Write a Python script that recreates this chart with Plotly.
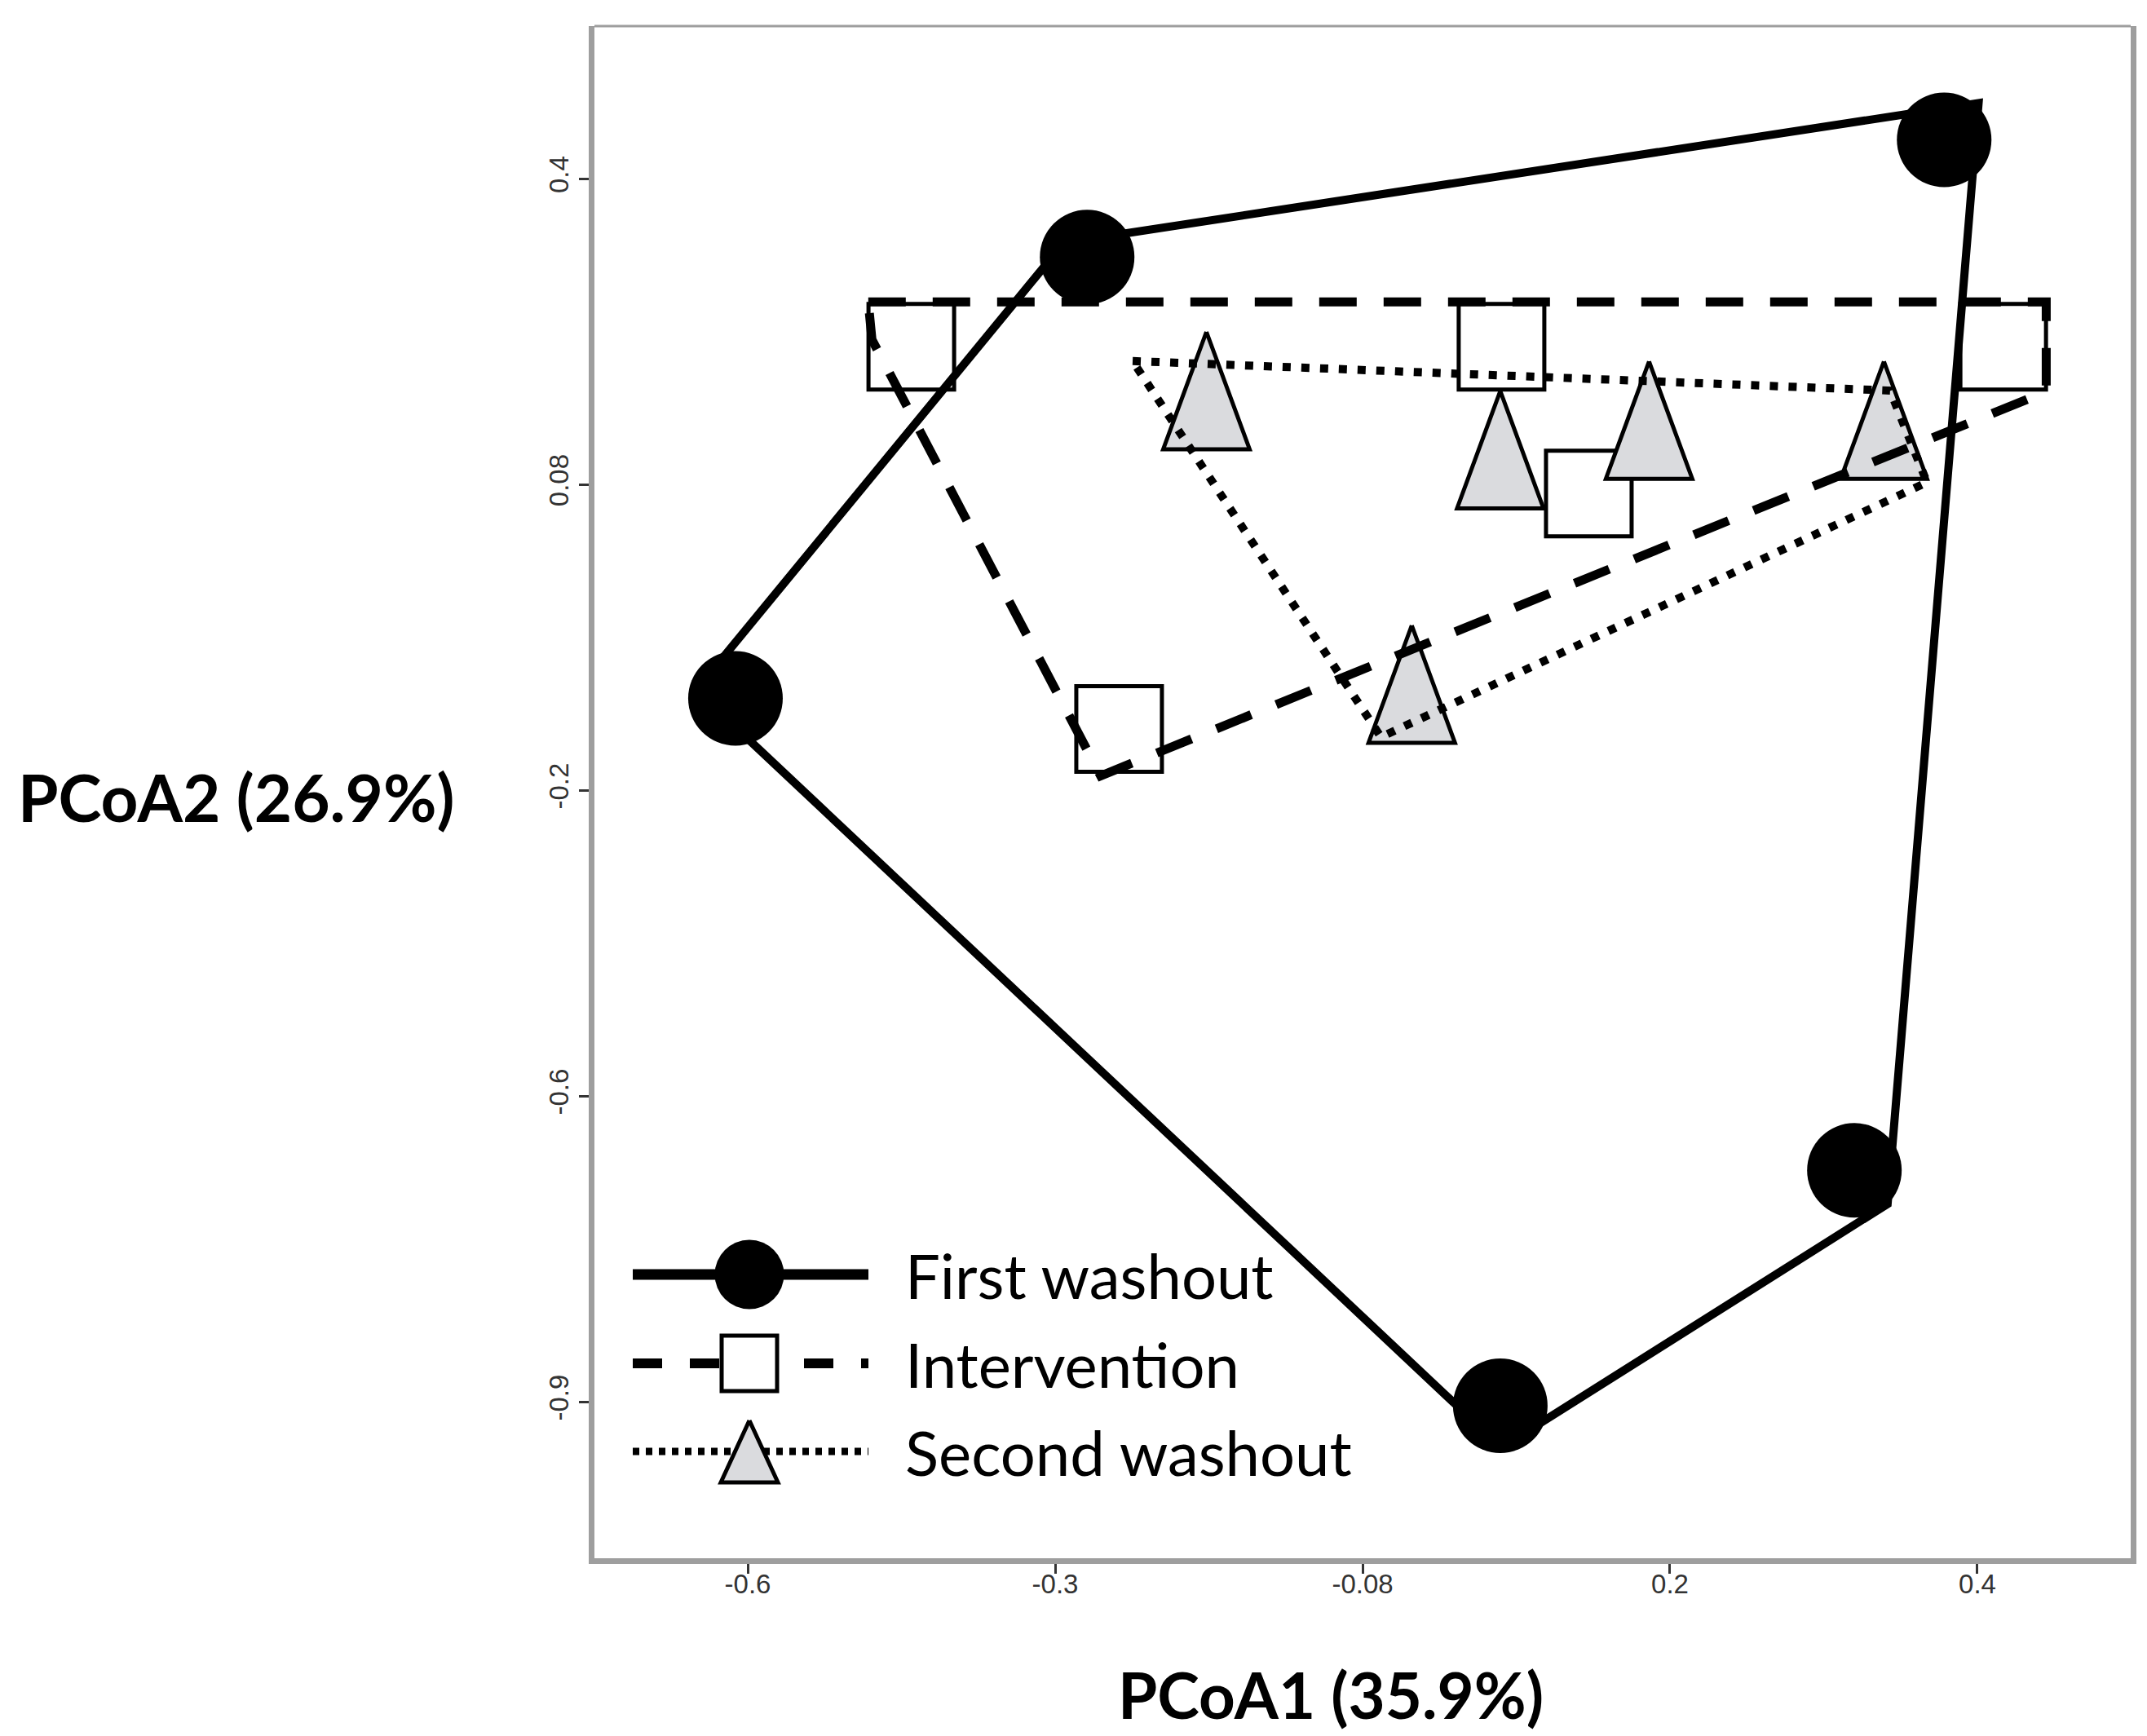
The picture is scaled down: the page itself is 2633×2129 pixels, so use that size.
import plotly.graph_objects as go

# ---------------- data ----------------
first_x = [-0.610, -0.324, 0.373, 0.300, 0.012]
first_y = [-0.110, 0.323, 0.438, -0.573, -0.804]
interv_x = [-0.467, 0.013, 0.421, 0.084, -0.298]
interv_y = [0.235, 0.235, 0.235, 0.091, -0.140]
second_x = [-0.227, 0.012, 0.133, 0.324, -0.060]
second_y = [0.192, 0.134, 0.163, 0.163, -0.096]

hull_first_x = [-0.642, -0.343, 0.401, 0.327, 0.013]
hull_first_y = [-0.102, 0.337, 0.474, -0.606, -0.845]
hull_interv_x = [-0.502, 0.456, 0.456, -0.313, -0.499]
hull_interv_y = [0.279, 0.279, 0.191, -0.186, 0.242]
hull_second_x = [-0.287, 0.329, 0.359, -0.085]
hull_second_y = [0.221, 0.192, 0.102, -0.148]

x_tickvals = [-0.6, -0.35, -0.1, 0.15, 0.4]
x_ticktext = ["-0.6", "-0.3", "-0.08", "0.2", "0.4"]
y_tickvals = [0.4, 0.1, -0.2, -0.5, -0.8]
y_ticktext = ["0.4", "0.08", "-0.2", "-0.6", "-0.9"]

group_names = ["First washout", "Intervention", "Second washout"]
x_title = "PCoA1 (35.9%)"
y_title = "PCoA2 (26.9%)"

# ---------------- layout constants ----------------
W, H = 2633, 2129
M_L, M_R, M_T, M_B = 721, 28, 24, 226
PLOT_W = W - M_L - M_R
PLOT_H = H - M_T - M_B
X_RANGE = [-0.7247, 0.5247]
Y_RANGE = [-0.9536, 0.5496]
UX = (X_RANGE[1] - X_RANGE[0]) / PLOT_W
UY = (Y_RANGE[1] - Y_RANGE[0]) / PLOT_H

TRI_FILL = "#dadbde"
AXIS_GREY = "#9e9e9e"
TEXT_FONT = "Lato"


def triangles(xs, ys, w_px, h_px, ux, uy):
    px, py = [], []
    hw, hh = w_px / 2 * ux, h_px / 2 * uy
    for x, y in zip(xs, ys):
        px += [x, x - hw, x + hw, x, None]
        py += [y + hh, y - hh, y - hh, y + hh, None]
    return px, py


def closed(xs, ys):
    return list(xs) + [xs[0]], list(ys) + [ys[0]]


fig = go.Figure()

# markers
fig.add_trace(go.Scatter(x=first_x, y=first_y, mode="markers", name=group_names[0],
                         marker=dict(symbol="circle", size=116, color="black",
                                     line=dict(width=0)),
                         showlegend=False))
fig.add_trace(go.Scatter(x=interv_x, y=interv_y, mode="markers", name=group_names[1],
                         marker=dict(symbol="square", size=105, color="white",
                                     line=dict(width=5, color="black")),
                         showlegend=False))
tx, ty = triangles(second_x, second_y, 106, 144, UX, UY)
fig.add_trace(go.Scatter(x=tx, y=ty, mode="lines", fill="toself", fillcolor=TRI_FILL,
                         line=dict(color="black", width=5), name=group_names[2],
                         showlegend=False))

# hulls (drawn above markers)
hx, hy = closed(hull_first_x, hull_first_y)
fig.add_trace(go.Scatter(x=hx, y=hy, mode="lines", line=dict(color="black", width=10),
                         showlegend=False, hoverinfo="skip"))
hx, hy = closed(hull_interv_x, hull_interv_y)
fig.add_trace(go.Scatter(x=hx, y=hy, mode="lines",
                         line=dict(color="black", width=11, dash="46px,33px"),
                         showlegend=False, hoverinfo="skip"))
hx, hy = closed(hull_second_x, hull_second_y)
fig.add_trace(go.Scatter(x=hx, y=hy, mode="lines",
                         line=dict(color="black", width=10, dash="10px,13px"),
                         showlegend=False, hoverinfo="skip"))

# ---------------- manual legend (pixel-space overlay axes) ----------------
LEG_X0, LEG_X1, LEG_MX, LEG_TX = 768, 1057, 911, 1100
LEG_Y = [1555, 1664, 1772]
leg_dash = ["solid", "36px,34px", "8px,8px"]
leg_width = [13, 12, 9]
for i in range(3):
    fig.add_trace(go.Scatter(x=[LEG_X0, LEG_X1], y=[LEG_Y[i], LEG_Y[i]], mode="lines",
                             xaxis="x2", yaxis="y2",
                             line=dict(color="black", width=leg_width[i], dash=leg_dash[i]),
                             showlegend=False, hoverinfo="skip"))
fig.add_trace(go.Scatter(x=[LEG_MX], y=[LEG_Y[0]], mode="markers", xaxis="x2", yaxis="y2",
                         marker=dict(symbol="circle", size=85, color="black"),
                         showlegend=False, hoverinfo="skip"))
fig.add_trace(go.Scatter(x=[LEG_MX], y=[LEG_Y[1]], mode="markers", xaxis="x2", yaxis="y2",
                         marker=dict(symbol="square", size=68, color="white",
                                     line=dict(width=5, color="black")),
                         showlegend=False, hoverinfo="skip"))
ltx, lty = triangles([LEG_MX], [LEG_Y[2]], 70, 76, 1, -1)
fig.add_trace(go.Scatter(x=ltx, y=lty, mode="lines", fill="toself", fillcolor=TRI_FILL,
                         xaxis="x2", yaxis="y2", line=dict(color="black", width=5),
                         showlegend=False, hoverinfo="skip"))

annotations = []
for i, name in enumerate(group_names):
    annotations.append(dict(x=LEG_TX, y=LEG_Y[i], xref="x2", yref="y2", text=name,
                            showarrow=False, xanchor="left", yanchor="middle",
                            font=dict(family=TEXT_FONT, size=76, color="black")))
annotations.append(dict(x=(1624 - M_L) / PLOT_W, y=(H - M_B - 2070) / PLOT_H,
                        xref="paper", yref="paper", text="<b>" + x_title + "</b>",
                        showarrow=False, xanchor="center", yanchor="middle",
                        font=dict(family=TEXT_FONT, size=78, color="black")))
annotations.append(dict(x=(282 - M_L) / PLOT_W, y=(H - M_B - 969) / PLOT_H,
                        xref="paper", yref="paper", text="<b>" + y_title + "</b>",
                        showarrow=False, xanchor="center", yanchor="middle",
                        font=dict(family=TEXT_FONT, size=80, color="black")))

tick_font = dict(family="Liberation Sans", size=33, color="#333333")
fig.update_layout(
    width=W, height=H,
    margin=dict(l=M_L, r=M_R, t=M_T, b=M_B, pad=0),
    paper_bgcolor="white", plot_bgcolor="white",
    showlegend=False,
    annotations=annotations,
    xaxis=dict(range=X_RANGE, tickvals=x_tickvals, ticktext=x_ticktext,
               showgrid=False, zeroline=False, showline=True, linecolor=AXIS_GREY,
               linewidth=7, ticks="outside", ticklen=12, tickwidth=3, tickcolor="#333333",
               tickfont=tick_font, ticklabelstandoff=-16),
    yaxis=dict(range=Y_RANGE, tickvals=y_tickvals, ticktext=y_ticktext,
               showgrid=False, zeroline=False, showline=True, linecolor=AXIS_GREY,
               linewidth=7, mirror=True, ticks="outside", ticklen=12, tickwidth=3,
               tickcolor="#333333", tickfont=tick_font, tickangle=-90),
    xaxis2=dict(overlaying="x", range=[M_L, W - M_R], visible=False, anchor="y2"),
    yaxis2=dict(overlaying="y", range=[H - M_B, M_T], visible=False, anchor="x2"),
    shapes=[dict(type="line", xref="paper", yref="paper", x0=0, x1=1, y0=1, y1=1,
                 line=dict(color=AXIS_GREY, width=3))],
)

fig.write_html("out.html")
